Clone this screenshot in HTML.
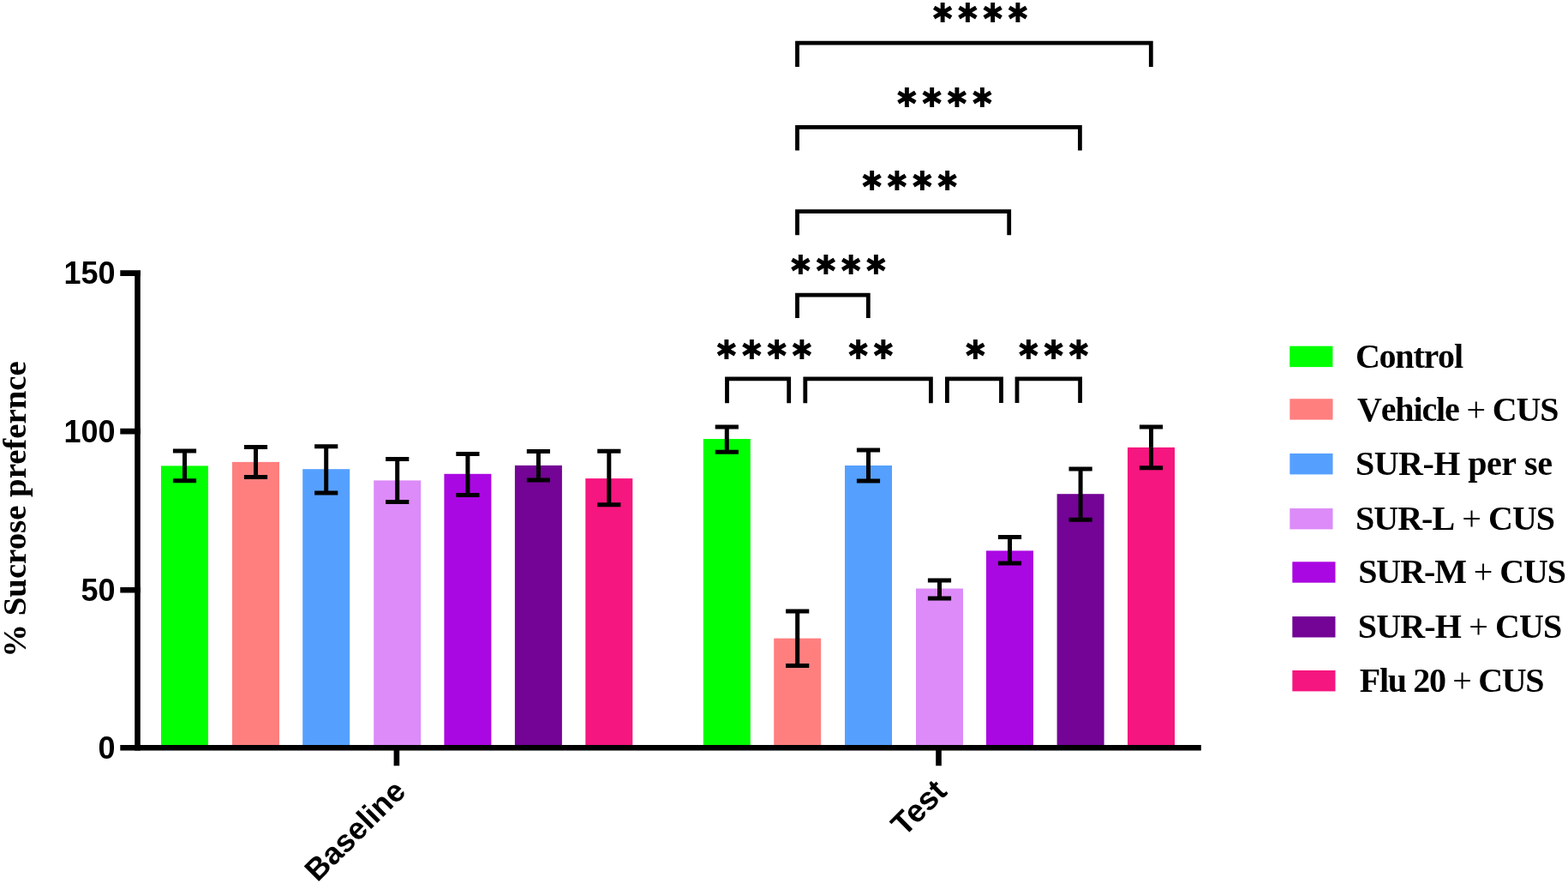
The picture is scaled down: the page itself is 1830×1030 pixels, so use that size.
<!DOCTYPE html>
<html><head><meta charset="utf-8"><title>Sucrose preference</title>
<style>
html,body{margin:0;padding:0;background:#fff;}
svg{display:block;}
.tk{font-family:"Liberation Sans",Arial,sans-serif;font-weight:bold;font-size:36px;fill:#000;}
.sr{font-family:"Liberation Serif","Times New Roman",serif;font-weight:bold;fill:#000;}
.lg{font-kerning:none;}
.pl{font-weight:normal;}
.as{font-family:"DejaVu Sans",sans-serif;font-weight:bold;font-size:31.5px;fill:#000;}
</style></head><body>
<svg width="1830" height="1030" viewBox="0 0 1830 1030">
<rect width="1830" height="1030" fill="#fff"/>

<rect x="188.0" y="543.4" width="55.0" height="328.9" fill="#00ff00"/>
<rect x="271.0" y="538.9" width="55.0" height="333.4" fill="#ff7f7f"/>
<rect x="353.2" y="547.2" width="55.0" height="325.1" fill="#55a0ff"/>
<rect x="436.2" y="560.4" width="55.0" height="311.9" fill="#dc8bf8"/>
<rect x="518.4" y="552.8" width="55.0" height="319.5" fill="#aa08e2"/>
<rect x="600.9" y="542.9" width="55.0" height="329.4" fill="#730495"/>
<rect x="683.3" y="558.1" width="55.0" height="314.2" fill="#f5167f"/>
<rect x="820.8" y="512.0" width="55.0" height="360.3" fill="#00ff00"/>
<rect x="903.2" y="744.6" width="55.0" height="127.7" fill="#ff7f7f"/>
<rect x="986.0" y="543.0" width="55.0" height="329.3" fill="#55a0ff"/>
<rect x="1069.0" y="686.5" width="55.0" height="185.8" fill="#dc8bf8"/>
<rect x="1151.0" y="642.4" width="55.0" height="229.9" fill="#aa08e2"/>
<rect x="1233.6" y="576.2" width="55.0" height="296.1" fill="#730495"/>
<rect x="1316.0" y="521.9" width="55.0" height="350.4" fill="#f5167f"/>
<path d="M215.5 526.0V560.7M201.9 526.0H229.1M201.9 560.7H229.1" stroke="#000" stroke-width="5" fill="none"/>
<path d="M298.5 521.5V556.5M284.9 521.5H312.1M284.9 556.5H312.1" stroke="#000" stroke-width="5" fill="none"/>
<path d="M380.7 520.7V575.0M367.1 520.7H394.3M367.1 575.0H394.3" stroke="#000" stroke-width="5" fill="none"/>
<path d="M463.7 535.6V585.4M450.1 535.6H477.3M450.1 585.4H477.3" stroke="#000" stroke-width="5" fill="none"/>
<path d="M545.9 529.5V577.5M532.3 529.5H559.5M532.3 577.5H559.5" stroke="#000" stroke-width="5" fill="none"/>
<path d="M628.4 526.4V560.0M614.8 526.4H642.0M614.8 560.0H642.0" stroke="#000" stroke-width="5" fill="none"/>
<path d="M710.8 526.3V588.8M697.2 526.3H724.4M697.2 588.8H724.4" stroke="#000" stroke-width="5" fill="none"/>
<path d="M848.3 498.0V527.3M834.7 498.0H861.9M834.7 527.3H861.9" stroke="#000" stroke-width="5" fill="none"/>
<path d="M930.7 713.0V776.4M917.1 713.0H944.3M917.1 776.4H944.3" stroke="#000" stroke-width="5" fill="none"/>
<path d="M1013.5 525.0V561.0M999.9 525.0H1027.1M999.9 561.0H1027.1" stroke="#000" stroke-width="5" fill="none"/>
<path d="M1096.5 677.0V698.0M1082.9 677.0H1110.1M1082.9 698.0H1110.1" stroke="#000" stroke-width="5" fill="none"/>
<path d="M1178.5 626.5V657.0M1164.9 626.5H1192.1M1164.9 657.0H1192.1" stroke="#000" stroke-width="5" fill="none"/>
<path d="M1261.1 547.0V606.3M1247.5 547.0H1274.7M1247.5 606.3H1274.7" stroke="#000" stroke-width="5" fill="none"/>
<path d="M1343.5 498.0V545.8M1329.9 498.0H1357.1M1329.9 545.8H1357.1" stroke="#000" stroke-width="5" fill="none"/>
<path d="M160.5 315.3V875.7M140.3 318.6H164M140.3 503.1H164M140.3 688.2H164M140.3 872.3H1401.8M462.9 872H462.9V893.3M1095.5 872V893.3" stroke="#000" stroke-width="6.6" fill="none"/>
<text class="tk" x="134.5" y="331.2" text-anchor="end">150</text>
<text class="tk" x="134.5" y="515.7" text-anchor="end">100</text>
<text class="tk" x="134.5" y="700.8" text-anchor="end">50</text>
<text class="tk" x="134.5" y="884.9" text-anchor="end">0</text>
<text class="tk" text-anchor="end" transform="translate(475.3,925.0) rotate(-45)">Baseline</text>
<text class="tk" style="font-size:37px" text-anchor="end" transform="translate(1107,925.0) rotate(-45)">Test</text>
<text class="sr" font-size="38.8" text-anchor="middle" transform="translate(30,594) rotate(-90)">% Sucrose prefernce</text>
<path d="M848.5 470.3V441.8H920.7V470.3" stroke="#000" stroke-width="4.8" fill="none"/>
<path d="M939.8 470.3V441.8H1086.4V470.3" stroke="#000" stroke-width="4.8" fill="none"/>
<path d="M1105.4 470.1V441.9H1168.5V470.1" stroke="#000" stroke-width="4.8" fill="none"/>
<path d="M1187.0 470.1V441.9H1260.6V470.1" stroke="#000" stroke-width="4.8" fill="none"/>
<path d="M930.5 371.0V344.2H1013.3V371.0" stroke="#000" stroke-width="4.8" fill="none"/>
<path d="M930.5 274.3V246.6H1177.7V274.3" stroke="#000" stroke-width="4.8" fill="none"/>
<path d="M930.5 175.5V148.3H1260.4V175.5" stroke="#000" stroke-width="4.8" fill="none"/>
<path d="M930.5 77.9V50.1H1343.3V77.9" stroke="#000" stroke-width="4.8" fill="none"/>
<text class="as" x="834.6 863.9 893.2 922.5" y="418.7">✱✱✱✱</text>
<text class="as" x="988.2 1017.5" y="418.9">✱✱</text>
<text class="as" x="1125.1" y="418.8">✱</text>
<text class="as" x="1186.9 1216.2 1245.5" y="418.8">✱✱✱</text>
<text class="as" x="921.1 950.4 979.7 1009.0" y="320.2">✱✱✱✱</text>
<text class="as" x="1004.3 1033.6 1062.9 1092.2" y="222.3">✱✱✱✱</text>
<text class="as" x="1045.0 1074.3 1103.6 1132.9" y="124.8">✱✱✱✱</text>
<text class="as" x="1086.7 1116.0 1145.3 1174.6" y="26.0">✱✱✱✱</text>
<rect x="1505.2" y="403.7" width="50.2" height="24.4" fill="#00ff00"/>
<text class="sr lg" font-size="40" x="1581.9" y="428.9" textLength="126.1" lengthAdjust="spacing">Control</text>
<rect x="1505.3" y="465.2" width="50.2" height="24.4" fill="#ff7f7f"/>
<text class="sr lg" font-size="40" x="1583.9" y="490.5" textLength="235.7" lengthAdjust="spacing">Vehicle <tspan class="pl">+</tspan> CUS</text>
<rect x="1505.3" y="529.0" width="50.2" height="24.4" fill="#55a0ff"/>
<text class="sr lg" font-size="40" x="1581.9" y="554.1" textLength="230.0" lengthAdjust="spacing">SUR-H per se</text>
<rect x="1505.3" y="593.0" width="50.2" height="24.4" fill="#dc8bf8"/>
<text class="sr lg" font-size="40" x="1581.9" y="618.0" textLength="233.2" lengthAdjust="spacing">SUR-L <tspan class="pl">+</tspan> CUS</text>
<rect x="1508.3" y="655.3" width="50.2" height="24.4" fill="#aa08e2"/>
<text class="sr lg" font-size="40" x="1585.2" y="680.0" textLength="242.9" lengthAdjust="spacing">SUR-M <tspan class="pl">+</tspan> CUS</text>
<rect x="1508.3" y="719.1" width="50.2" height="24.4" fill="#730495"/>
<text class="sr lg" font-size="40" x="1584.8" y="744.1" textLength="238.5" lengthAdjust="spacing">SUR-H <tspan class="pl">+</tspan> CUS</text>
<rect x="1508.3" y="782.0" width="50.2" height="24.4" fill="#f5167f"/>
<text class="sr lg" font-size="40" x="1586.8" y="807.4" textLength="215.8" lengthAdjust="spacing">Flu 20 <tspan class="pl">+</tspan> CUS</text>
</svg>
</body></html>
